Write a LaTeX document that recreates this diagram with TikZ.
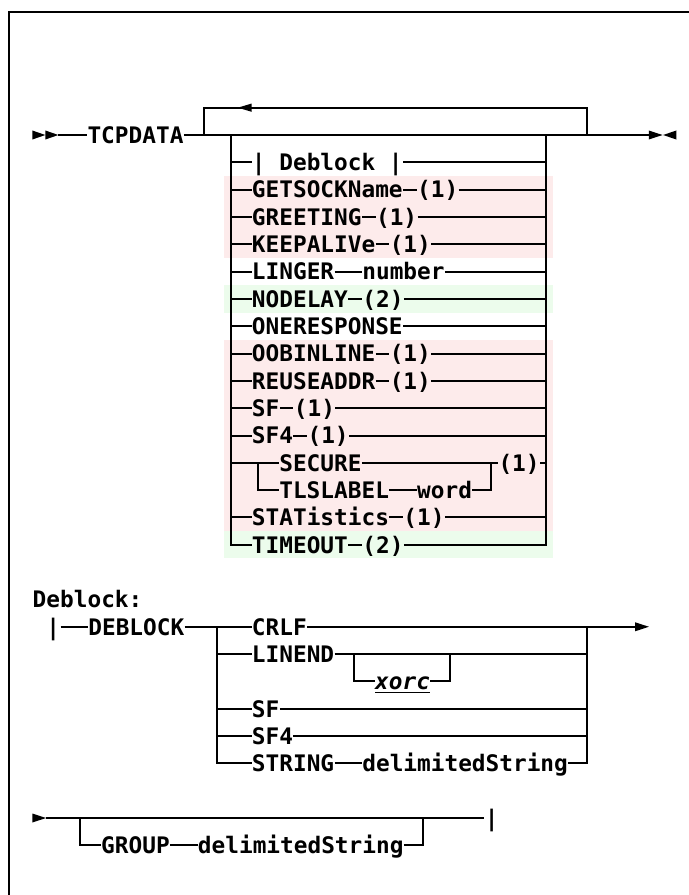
\documentclass[tikz,border=0pt]{standalone}
\usepackage{fontspec}
\newfontfamily\railfont{DejaVu Sans Mono}[BoldItalicFont={DejaVu Sans Mono Bold Oblique}]
\usetikzlibrary{positioning}
\definecolor{optpink}{RGB}{253,235,235}
\definecolor{optgreen}{RGB}{236,252,236}

\begin{document}
\begin{tikzpicture}[
  x=6.85pt, y=6.83pt,
  node distance=6.85pt,
  kw/.style={anchor=west, inner sep=0pt, text height=8.3pt, text depth=0pt,
    font=\railfont\bfseries\fontsize{11.38pt}{13.66pt}\selectfont},
  rail/.style={line width=1pt},
  tip/.style={fill=black},
  frame/.style={line width=1pt}
]
\useasboundingbox (-2.361,-55.637) rectangle (47.931,9.883);
\draw[frame] (-1.68,-55.637) -- (-1.68,9.03) -- (47.931,9.03);

% shaded options
\fill[optpink] (14,-3) rectangle (38,-9);
\fill[optgreen] (14,-11) rectangle (38,-13);
\fill[optpink] (14,-15) rectangle (38,-29);
\fill[optgreen] (14,-29) rectangle (38,-31);

% main line
\node[kw] (tcp) at (4,0) {TCPDATA};
\coordinate (go) at (1.9,0);
\coordinate (loopL) at (12.5,0);
\coordinate (loopR) at (40.5,0);
\coordinate (stkL) at (14.5,0);
\coordinate (stkR) at (37.5,0);
\coordinate (fin) at (45,0);
\fill[tip] (0,0.33) -- (0.95,0) -- (0,-0.33) -- cycle;
\fill[tip] (0.95,0.33) -- (1.9,0) -- (0.95,-0.33) -- cycle;
\draw[rail] (go) -- (tcp.west);
\draw[rail] (tcp.east) -- (fin);
\fill[tip] (45,0.33) -- (46,0) -- (45,-0.33) -- cycle;
\fill[tip] (47,0.33) -- (46.05,0) -- (47,-0.33) -- cycle;
\draw[rail] (loopL) -- ++(0,2) -| (loopR);
\fill[tip] (16,2.3) -- (15,2) -- (16,1.7) -- cycle;

% options
\node[kw] (dbl) at (16,-2) {| Deblock |};
\node[kw] (gsn) at (16,-4) {GETSOCKName};
\node[kw, right=of gsn] (gsn1) {(1)};
\node[kw] (gre) at (16,-6) {GREETING};
\node[kw, right=of gre] (gre1) {(1)};
\node[kw] (kpa) at (16,-8) {KEEPALIVe};
\node[kw, right=of kpa] (kpa1) {(1)};
\node[kw] (lng) at (16,-10) {LINGER};
\node[kw, right=13.7pt of lng] (num) {number};
\node[kw] (ndl) at (16,-12) {NODELAY};
\node[kw, right=of ndl] (ndl2) {(2)};
\node[kw] (one) at (16,-14) {ONERESPONSE};
\node[kw] (oob) at (16,-16) {OOBINLINE};
\node[kw, right=of oob] (oob1) {(1)};
\node[kw] (rsa) at (16,-18) {REUSEADDR};
\node[kw, right=of rsa] (rsa1) {(1)};
\node[kw] (sf) at (16,-20) {SF};
\node[kw, right=of sf] (sf1) {(1)};
\node[kw] (sff) at (16,-22) {SF4};
\node[kw, right=of sff] (sff1) {(1)};
\node[kw] (sec) at (18,-24) {SECURE};
\node[kw] (sec1) at (34,-24) {(1)};
\node[kw] (tls) at (18,-26) {TLSLABEL};
\node[kw, right=13.7pt of tls] (wrd) {word};
\node[kw] (sta) at (16,-28) {STATistics};
\node[kw, right=of sta] (sta1) {(1)};
\node[kw] (tmo) at (16,-30) {TIMEOUT};
\node[kw, right=of tmo] (tmo2) {(2)};
\coordinate (secL) at (16.5,-24);
\coordinate (secR) at (33.5,-24);

\draw[rail] (stkL |- dbl.west) -- (dbl.west) (dbl.east) -- (stkR |- dbl.east);
\draw[rail] (stkL |- gsn.west) -- (gsn.west) (gsn.east) -- (gsn1.west) (gsn1.east) -- (stkR |- gsn1.east);
\draw[rail] (stkL |- gre.west) -- (gre.west) (gre.east) -- (gre1.west) (gre1.east) -- (stkR |- gre1.east);
\draw[rail] (stkL |- kpa.west) -- (kpa.west) (kpa.east) -- (kpa1.west) (kpa1.east) -- (stkR |- kpa1.east);
\draw[rail] (stkL |- lng.west) -- (lng.west) (lng.east) -- (num.west) (num.east) -- (stkR |- num.east);
\draw[rail] (stkL |- ndl.west) -- (ndl.west) (ndl.east) -- (ndl2.west) (ndl2.east) -- (stkR |- ndl2.east);
\draw[rail] (stkL |- one.west) -- (one.west) (one.east) -- (stkR |- one.east);
\draw[rail] (stkL |- oob.west) -- (oob.west) (oob.east) -- (oob1.west) (oob1.east) -- (stkR |- oob1.east);
\draw[rail] (stkL |- rsa.west) -- (rsa.west) (rsa.east) -- (rsa1.west) (rsa1.east) -- (stkR |- rsa1.east);
\draw[rail] (stkL |- sf.west) -- (sf.west) (sf.east) -- (sf1.west) (sf1.east) -- (stkR |- sf1.east);
\draw[rail] (stkL |- sff.west) -- (sff.west) (sff.east) -- (sff1.west) (sff1.east) -- (stkR |- sff1.east);
\draw[rail] (stkL |- sec.west) -- (sec.west) (sec.east) -- (sec1.west) (sec1.east) -- (stkR |- sec1.east);
\draw[rail] (secL) |- (tls.west) (tls.east) -- (wrd.west) (wrd.east) -| (secR);
\draw[rail] (stkL |- sta.west) -- (sta.west) (sta.east) -- (sta1.west) (sta1.east) -- (stkR |- sta1.east);
\draw[rail] (stkL) |- (tmo.west) (tmo.east) -- (tmo2.west) (tmo2.east) -| (stkR);

% Deblock fragment
\node[kw] (dbhead) at (0,-34) {Deblock:};
\node[kw] (bar) at (1,-36) {|};
\node[kw, right=13.7pt of bar] (dbk) {DEBLOCK};
\node[kw] (crlf) at (16,-36) {CRLF};
\node[kw] (lnd) at (16,-38) {LINEND};
\node[kw] (xorc) at (25,-40) {\itshape\underline{xorc}};
\node[kw] (dsf) at (16,-42) {SF};
\node[kw] (dsff) at (16,-44) {SF4};
\node[kw] (str) at (16,-46) {STRING};
\node[kw, right=13.7pt of str] (dstr) {delimitedString};
\coordinate (dL) at (13.5,-36);
\coordinate (dR) at (40.5,-36);
\coordinate (dEnd) at (44,-36);
\coordinate (xL) at (23.5,-38);
\coordinate (xR) at (30.5,-38);

\draw[rail] (bar.east) -- (dbk.west) (dbk.east) -- (crlf.west) (crlf.east) -- (dEnd);
\fill[tip] (44,-35.67) -- (45,-36) -- (44,-36.33) -- cycle;
\draw[rail] (dL |- lnd.west) -- (lnd.west) (lnd.east) -- (dR |- lnd.east);
\draw[rail] (xL) |- (xorc.west) (xorc.east) -| (xR);
\draw[rail] (dL |- dsf.west) -- (dsf.west) (dsf.east) -- (dR |- dsf.east);
\draw[rail] (dL |- dsff.west) -- (dsff.west) (dsff.east) -- (dR |- dsff.east);
\draw[rail] (dL) |- (str.west) (str.east) -- (dstr.west) (dstr.east) -| (dR);

% continuation
\coordinate (gStart) at (1,-50);
\coordinate (gL) at (3.5,-50);
\coordinate (gR) at (28.5,-50);
\node[kw] (ebar) at (33,-50) {|};
\node[kw] (grp) at (5,-52) {GROUP};
\node[kw, right=13.7pt of grp] (gstr) {delimitedString};
\fill[tip] (0,-49.67) -- (1,-50) -- (0,-50.33) -- cycle;
\draw[rail] (gStart) -- (ebar.west);
\draw[rail] (gL) |- (grp.west) (grp.east) -- (gstr.west) (gstr.east) -| (gR);
\end{tikzpicture}
\end{document}
